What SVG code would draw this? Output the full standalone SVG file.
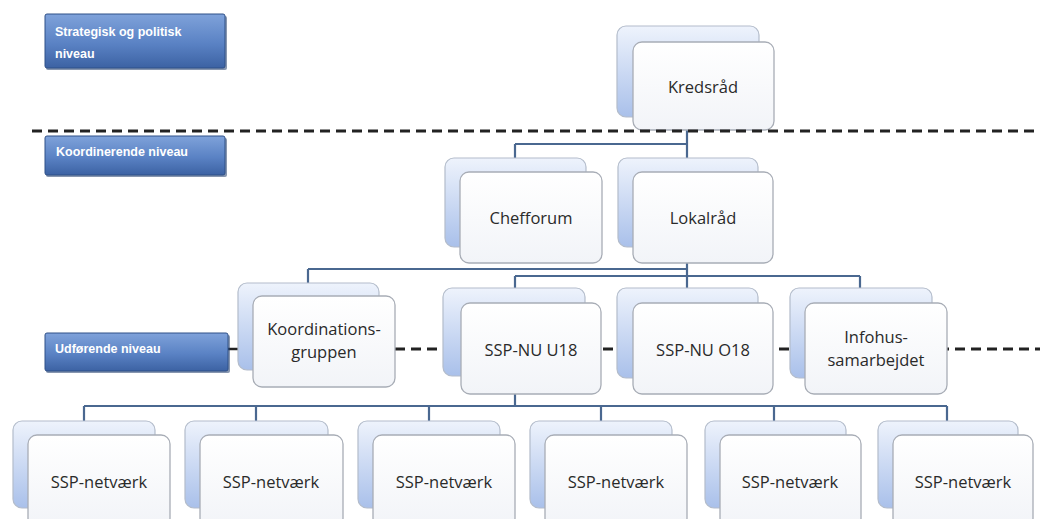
<svg xmlns="http://www.w3.org/2000/svg" width="1042" height="519" viewBox="0 0 1042 519">
<defs>
<linearGradient id="gBack" x1="0" y1="0" x2="0" y2="1">
<stop offset="0" stop-color="#eef3fc"/>
<stop offset="1" stop-color="#a9c0ea"/>
</linearGradient>
<linearGradient id="gFront" x1="0" y1="0" x2="0" y2="1">
<stop offset="0" stop-color="#ffffff"/>
<stop offset="1" stop-color="#f2f4f8"/>
</linearGradient>
<linearGradient id="gLevel" x1="0" y1="0" x2="0" y2="1">
<stop offset="0" stop-color="#7fa2da"/>
<stop offset="0.55" stop-color="#5a82c4"/>
<stop offset="1" stop-color="#3c62a3"/>
</linearGradient>
</defs>
<style>
.back{fill:url(#gBack);stroke:#b3bccb;stroke-width:1.2}
.front{fill:url(#gFront);stroke:#a8adb6;stroke-width:1.3}
.lbl{font-family:"Open Sans","Liberation Sans",sans-serif;font-size:16.5px;fill:#2a2a2a;text-anchor:middle}
.lvl{fill:url(#gLevel);stroke:#2f5088;stroke-width:1}
.lvls{fill:#24406e;opacity:0.55}
.lvlt{font-family:"Liberation Sans","Open Sans",sans-serif;font-size:12.5px;font-weight:bold;fill:#ffffff}
.conn{fill:none;stroke:#4a6890;stroke-width:2.2}
.dash{fill:none;stroke:#222222;stroke-width:3;stroke-dasharray:10 6}
</style>
<rect width="1042" height="519" fill="#ffffff"/>

<g id="dashed-middle">
<line x1="228" y1="349" x2="254" y2="349" stroke="#222" stroke-width="2.5"/>
<line class="dash" x1="395" y1="349" x2="1040" y2="349"/>
</g>

<g id="level-strategisk">
<rect class="lvls" x="46" y="16" width="181" height="54" rx="2"/>
<rect class="lvl" x="45" y="14" width="180" height="54" rx="2"/>
<text class="lvlt" x="55" y="36">Strategisk og politisk</text>
<text class="lvlt" x="55" y="58">niveau</text>
</g>
<g id="level-koordinerende">
<rect class="lvls" x="46" y="138" width="181" height="39" rx="2"/>
<rect class="lvl" x="45" y="136" width="180" height="39" rx="2"/>
<text class="lvlt" x="56" y="156">Koordinerende niveau</text>
</g>
<g id="level-udforende">
<rect class="lvls" x="46" y="335" width="184" height="38" rx="2"/>
<rect class="lvl" x="45" y="333" width="183" height="38" rx="2"/>
<text class="lvlt" x="55" y="353">Udførende niveau</text>
</g>

<g id="connectors">
<path class="conn" d="M687 130 V158 M515 144 H687 M515 144 V158"/>
<path class="conn" d="M687 263 V288 M308 269 H687 M308 269 V283 M515 276 H860 M515 276 V288 M860 276 V288"/>
<path class="conn" d="M515 394 V406 M84 406 H947 M84 406 V421 M256 406 V421 M429 406 V421 M601 406 V421 M774 406 V421 M947 406 V421"/>
</g>

<g id="node-kredsraad">
<rect class="back" x="617" y="26" width="142" height="91" rx="9"/>
<rect class="front" x="633" y="42" width="141" height="88" rx="9"/>
<text class="lbl" x="703" y="93">Kredsråd</text>
</g>

<g id="dashed-top">
<line class="dash" x1="32" y1="131" x2="1040" y2="131"/>
</g>

<g id="node-chefforum">
<rect class="back" x="445" y="158" width="141" height="89" rx="9"/>
<rect class="front" x="460" y="172" width="142" height="91" rx="9"/>
<text class="lbl" x="531" y="224">Chefforum</text>
</g>
<g id="node-lokalraad">
<rect class="back" x="618" y="158" width="140" height="89" rx="9"/>
<rect class="front" x="633" y="172" width="140" height="91" rx="9"/>
<text class="lbl" x="703" y="224">Lokalråd</text>
</g>

<g id="node-koordinationsgruppen">
<rect class="back" x="238" y="283" width="141" height="87" rx="9"/>
<rect class="front" x="253" y="296" width="142" height="91" rx="9"/>
<text class="lbl" x="324" y="335">Koordinations-</text>
<text class="lbl" x="324" y="358">gruppen</text>
</g>
<g id="node-ssp-nu-u18">
<rect class="back" x="443" y="288" width="142" height="88" rx="9"/>
<rect class="front" x="461" y="303" width="140" height="91" rx="9"/>
<text class="lbl" x="531" y="356">SSP-NU U18</text>
</g>
<g id="node-ssp-nu-o18">
<rect class="back" x="617" y="288" width="141" height="90" rx="9"/>
<rect class="front" x="633" y="303" width="140" height="91" rx="9"/>
<text class="lbl" x="703" y="356">SSP-NU O18</text>
</g>
<g id="node-infohus">
<rect class="back" x="790" y="288" width="142" height="90" rx="9"/>
<rect class="front" x="805" y="303" width="142" height="91" rx="9"/>
<text class="lbl" x="876" y="343">Infohus-</text>
<text class="lbl" x="876" y="366">samarbejdet</text>
</g>

<g id="node-ssp-netvaerk-1">
<rect class="back" x="13" y="421" width="142" height="87" rx="9"/>
<rect class="front" x="28" y="435" width="142" height="92" rx="9"/>
<text class="lbl" x="99" y="488">SSP-netværk</text>
</g>
<g id="node-ssp-netvaerk-2">
<rect class="back" x="185" y="421" width="143" height="87" rx="9"/>
<rect class="front" x="200" y="435" width="143" height="92" rx="9"/>
<text class="lbl" x="271" y="488">SSP-netværk</text>
</g>
<g id="node-ssp-netvaerk-3">
<rect class="back" x="358" y="421" width="142" height="87" rx="9"/>
<rect class="front" x="373" y="435" width="142" height="92" rx="9"/>
<text class="lbl" x="444" y="488">SSP-netværk</text>
</g>
<g id="node-ssp-netvaerk-4">
<rect class="back" x="530" y="421" width="142" height="87" rx="9"/>
<rect class="front" x="545" y="435" width="142" height="92" rx="9"/>
<text class="lbl" x="616" y="488">SSP-netværk</text>
</g>
<g id="node-ssp-netvaerk-5">
<rect class="back" x="705" y="421" width="141" height="87" rx="9"/>
<rect class="front" x="720" y="435" width="141" height="92" rx="9"/>
<text class="lbl" x="790" y="488">SSP-netværk</text>
</g>
<g id="node-ssp-netvaerk-6">
<rect class="back" x="878" y="421" width="140" height="87" rx="9"/>
<rect class="front" x="893" y="435" width="140" height="92" rx="9"/>
<text class="lbl" x="963" y="488">SSP-netværk</text>
</g>
</svg>
